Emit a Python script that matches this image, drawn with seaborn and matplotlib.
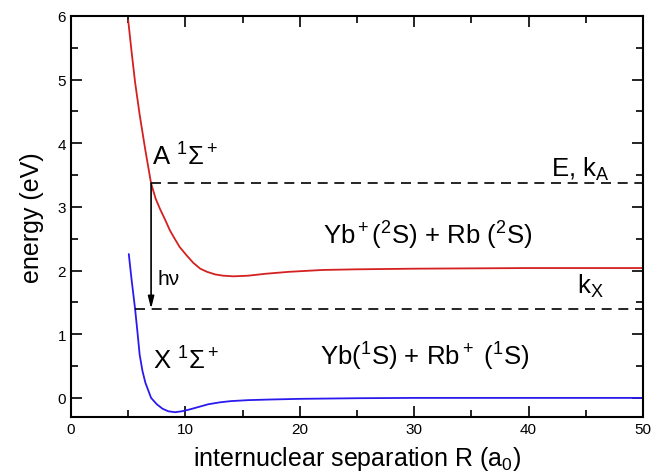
import numpy as np
import pandas as pd
import matplotlib
matplotlib.use("Agg")
import matplotlib.pyplot as plt
from matplotlib.ticker import MultipleLocator
import seaborn as sns

# potential curves (R in a0, energy in eV)
r_A = [5.0, 5.3, 5.6, 6.0, 6.5, 7.0, 7.4, 7.8, 8.2, 8.65, 9.1, 9.5, 10.1, 10.7, 11.3,
       11.9, 12.6, 13.3, 14.2, 15.5, 17.0, 19.0, 22.0, 25.0, 30.0, 35.0, 40.0, 50.0]
e_A = [5.93, 5.43, 4.96, 4.45, 3.89, 3.37, 3.13, 2.96, 2.81, 2.63, 2.49, 2.37, 2.24, 2.12, 2.03,
       1.98, 1.94, 1.92, 1.91, 1.92, 1.95, 1.98, 2.01, 2.02, 2.03, 2.035, 2.04, 2.04]

r_X = [5.05, 5.3, 5.6, 5.8, 6.0, 6.25, 6.5, 7.0, 7.5, 8.0, 8.5, 9.1, 9.7, 10.4, 11.2,
       12.0, 13.0, 14.0, 15.5, 17.5, 20.0, 25.0, 30.0, 40.0, 50.0]
e_X = [2.26, 1.85, 1.40, 1.05, 0.68, 0.42, 0.24, 0.0, -0.10, -0.17, -0.21, -0.225, -0.21, -0.18, -0.14,
       -0.10, -0.07, -0.05, -0.035, -0.025, -0.015, -0.005, 0.0, 0.0, 0.0]

# collision energy levels and where the dashed lines start
E_level, E_start = 3.37, 7.0
kX_level, kX_start = 1.40, 5.6

sns.set_theme(style="ticks")
plt.rcParams["font.family"] = ["Liberation Sans", "DejaVu Sans"]
plt.rcParams["mathtext.fontset"] = "custom"
plt.rcParams["mathtext.rm"] = "Liberation Sans"
plt.rcParams["mathtext.it"] = "Liberation Sans:italic"
plt.rcParams["mathtext.default"] = "regular"
plt.rcParams["text.color"] = "black"
plt.rcParams["axes.labelcolor"] = "black"

df_A = pd.DataFrame({"R": r_A, "E": e_A})
df_X = pd.DataFrame({"R": r_X, "E": e_X})

fig = plt.figure(figsize=(6.54, 4.77), dpi=100)
ax = fig.add_axes([0.1086, 0.1237, 0.8744, 0.8407])

sns.lineplot(data=df_A, x="R", y="E", color="#d42020", lw=1.3, ax=ax)
sns.lineplot(data=df_X, x="R", y="E", color="#2a1aee", lw=1.3, ax=ax)

ax.plot([E_start, 50], [E_level, E_level], color="black", lw=1.2, dashes=(6, 4))
ax.plot([kX_start, 50], [kX_level, kX_level], color="black", lw=1.2, dashes=(6, 4))
ax.annotate("", xy=(E_start, kX_level), xytext=(E_start, E_level),
            arrowprops=dict(arrowstyle="-|>,head_length=0.6,head_width=0.15",
                            color="black", lw=1.2, shrinkA=0, shrinkB=0))

ax.text(7.05, 3.67, "A $^1$Σ$^+$", fontsize=18.5)
ax.text(42.0, 3.49, "E, k$_A$", fontsize=18.5)
ax.text(22.05, 2.42, "Yb$^+$($^2$S) + Rb ($^2$S)", fontsize=18.5)
ax.text(7.55, 1.79, "hν", fontsize=15)
ax.text(44.2, 1.65, "k$_X$", fontsize=18.5)
ax.text(7.2, 0.455, "X $^1$Σ$^+$", fontsize=18.5)
ax.text(21.77, 0.53, "Yb($^1$S) + Rb$^+$ ($^1$S)", fontsize=18.5)

ax.set_xlim(0, 50)
ax.set_ylim(-0.3, 6)
ax.xaxis.set_major_locator(MultipleLocator(10))
ax.xaxis.set_minor_locator(MultipleLocator(5))
ax.yaxis.set_major_locator(MultipleLocator(1))
ax.yaxis.set_minor_locator(MultipleLocator(0.5))
ax.tick_params(which="both", direction="in", top=True, right=True, colors="black", labelsize=11)
ax.tick_params(which="major", length=8, width=1.2)
ax.tick_params(which="minor", length=5, width=1.2)
for s in ax.spines.values():
    s.set_linewidth(1.5)
    s.set_color("black")

ax.set_xlabel("internuclear separation R (a$_0$)", fontsize=18, labelpad=6)
ax.set_ylabel("energy (eV)", fontsize=18, labelpad=10)

fig.savefig("out.png", dpi=100)
